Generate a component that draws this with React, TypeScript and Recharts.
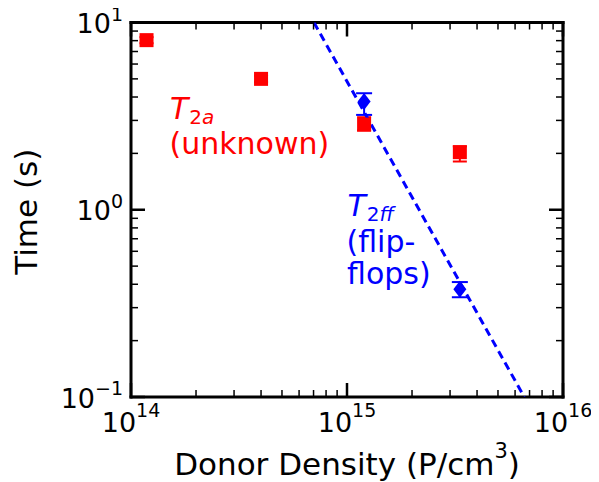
import React from 'react';
import { ScatterChart, Scatter, XAxis, YAxis, ErrorBar } from 'recharts';

// ---- data ----
const redDensity = [1.18e14, 4.0e14, 1.2e15, 3.33e15];
const redTime = [8.05, 5.0, 2.85, 2.03];
const redErrLow = [0.3, 0.2, 0.2, 0.22];
const redErrHigh = [0.3, 0.2, 0.27, 0.15];

const blueDensity = [1.2e15, 3.33e15];
const blueTime = [3.78, 0.376];
const blueErrLow = [0.57, 0.035];
const blueErrHigh = [0.41, 0.035];

const fitDensity = [7.03e14, 6.62e15];
const fitTime = [10, 0.1];

const xTickValues = [
  1e14, 2e14, 3e14, 4e14, 5e14, 6e14, 7e14, 8e14, 9e14,
  1e15, 2e15, 3e15, 4e15, 5e15, 6e15, 7e15, 8e15, 9e15, 1e16,
];
const yTickValues = [
  0.1, 0.2, 0.3, 0.4, 0.5, 0.6, 0.7, 0.8, 0.9,
  1, 2, 3, 4, 5, 6, 7, 8, 9, 10,
];

const redData = redDensity.map((x, i) => ({ x, y: redTime[i], err: [redErrLow[i], redErrHigh[i]] }));
const blueData = blueDensity.map((x, i) => ({ x, y: blueTime[i], err: [blueErrLow[i], blueErrHigh[i]] }));
const fitData = fitDensity.map((x, i) => ({ x, y: fitTime[i] }));

const FONT = '"DejaVu Sans", sans-serif';
const RED = '#ff0000';
const BLUE = '#0000ff';
const MAJ = 14;
const MIN = 7;

const isMajor = (v: number) => {
  const l = Math.log10(v);
  return Math.abs(l - Math.round(l)) < 1e-6;
};
const expLabel = (v: number) => {
  const e = Math.round(Math.log10(v));
  return e < 0 ? '\u2212' + Math.abs(e) : String(e);
};

function BottomTick(props: any) {
  const { x, y, payload } = props;
  const v = payload.value;
  const maj = isMajor(v);
  return (
    <g>
      <line x1={x} y1={y} x2={x} y2={y - (maj ? MAJ : MIN)} stroke="#000" strokeWidth={maj ? 2.5 : 1.5} />
      {maj && (
        <text x={x} y={y + 34.5} textAnchor="middle" fontFamily={FONT} fill="#000">
          <tspan fontSize={27}>10</tspan>
          <tspan fontSize={19} dy={-15}>{expLabel(v)}</tspan>
        </text>
      )}
    </g>
  );
}

function TopTick(props: any) {
  const { x, y, payload } = props;
  const maj = isMajor(payload.value);
  return <line x1={x} y1={y} x2={x} y2={y + (maj ? MAJ : MIN)} stroke="#000" strokeWidth={maj ? 2.5 : 1.5} />;
}

function LeftTick(props: any) {
  const { x, y, payload } = props;
  const v = payload.value;
  const maj = isMajor(v);
  return (
    <g>
      <line x1={x} y1={y} x2={x + (maj ? MAJ : MIN)} y2={y} stroke="#000" strokeWidth={maj ? 2.5 : 1.5} />
      {maj && (
        <text x={x - 8} y={y + 10.5} textAnchor="end" fontFamily={FONT} fill="#000">
          <tspan fontSize={27}>10</tspan>
          <tspan fontSize={19} dy={-12.5}>{expLabel(v)}</tspan>
        </text>
      )}
    </g>
  );
}

function RightTick(props: any) {
  const { x, y, payload } = props;
  const maj = isMajor(payload.value);
  return <line x1={x} y1={y} x2={x - (maj ? MAJ : MIN)} y2={y} stroke="#000" strokeWidth={maj ? 2.5 : 1.5} />;
}

const Square = (props: any) => {
  const { cx, cy } = props;
  const s = 7;
  return <rect x={cx - s} y={cy - s} width={2 * s} height={2 * s} fill={RED} />;
};

const Diamond = (props: any) => {
  const { cx, cy } = props;
  const w = 6.5;
  const h = 8.5;
  return <polygon points={`${cx},${cy - h} ${cx + w},${cy} ${cx},${cy + h} ${cx - w},${cy}`} fill={BLUE} />;
};

const NoShape = () => <g />;

const axisLineStyle = { stroke: '#000', strokeWidth: 3, strokeLinecap: 'square' as const };

export default function App() {
  return (
    <div style={{ position: 'relative', width: 591, height: 474 }}>
      <ScatterChart width={591} height={474} margin={{ top: 12.5, right: 30, bottom: 35, left: 63 }}>
        <XAxis
          xAxisId="b"
          type="number"
          dataKey="x"
          scale="log"
          domain={[1e14, 1e16]}
          allowDataOverflow
          ticks={xTickValues}
          interval={0}
          tickSize={0}
          tickMargin={0}
          tickLine={false}
          tick={<BottomTick />}
          axisLine={axisLineStyle}
          height={50}
          orientation="bottom"
        />
        <XAxis
          xAxisId="t"
          type="number"
          dataKey="x"
          scale="log"
          domain={[1e14, 1e16]}
          allowDataOverflow
          ticks={xTickValues}
          interval={0}
          tickSize={0}
          tickMargin={0}
          tickLine={false}
          tick={<TopTick />}
          axisLine={axisLineStyle}
          height={2}
          orientation="top"
        />
        <YAxis
          yAxisId="l"
          type="number"
          dataKey="y"
          scale="log"
          domain={[0.1, 10]}
          allowDataOverflow
          ticks={yTickValues}
          interval={0}
          tickSize={0}
          tickMargin={0}
          tickLine={false}
          tick={<LeftTick />}
          axisLine={axisLineStyle}
          width={60}
          orientation="left"
        />
        <YAxis
          yAxisId="r"
          type="number"
          dataKey="y"
          scale="log"
          domain={[0.1, 10]}
          allowDataOverflow
          ticks={yTickValues}
          interval={0}
          tickSize={0}
          tickMargin={0}
          tickLine={false}
          tick={<RightTick />}
          axisLine={axisLineStyle}
          width={6}
          orientation="right"
        />
        <Scatter
          xAxisId="b"
          yAxisId="l"
          data={fitData}
          fill={BLUE}
          line={{ stroke: BLUE, strokeWidth: 3, strokeDasharray: '8 5' }}
          shape={NoShape}
          isAnimationActive={false}
        />
        <Scatter xAxisId="b" yAxisId="l" data={redData} fill={RED} shape={Square} isAnimationActive={false}>
          <ErrorBar dataKey="err" direction="y" width={7} stroke={RED} strokeWidth={2} isAnimationActive={false} />
        </Scatter>
        <Scatter xAxisId="b" yAxisId="l" data={blueData} fill={BLUE} shape={Diamond} isAnimationActive={false}>
          <ErrorBar dataKey="err" direction="y" width={8} stroke={BLUE} strokeWidth={2} isAnimationActive={false} />
        </Scatter>
        <Scatter xAxisId="t" yAxisId="r" data={[]} isAnimationActive={false} />
      </ScatterChart>
      <svg
        width={591}
        height={474}
        style={{ position: 'absolute', left: 0, top: 0, pointerEvents: 'none' }}
      >
        <text
          x={28.7}
          y={203.7}
          transform="rotate(-90, 28.7, 203.7)"
          textAnchor="middle"
          fontFamily={FONT}
          fontSize={31}
          fill="#000"
        >
          Time (s)
        </text>
        <text x={339} y={466.5} textAnchor="middle" fontFamily={FONT} fontSize={31} fill="#000">
          <tspan>Donor Density (P/cm</tspan>
          <tspan fontSize={21} dy={-17}>3</tspan>
          <tspan dy={17}>)</tspan>
        </text>
        <text x={162} y={110.5} fontFamily={FONT} fill={RED}>
          <tspan fontSize={30} fontStyle="italic">T</tspan>
          <tspan fontSize={20} dy={5} dx={1}>2</tspan>
          <tspan fontSize={20} fontStyle="italic">a</tspan>
        </text>
        <text x={161.5} y={145.5} fontFamily={FONT} fontSize={30} fill={RED}>(unknown)</text>
        <text x={339.5} y={208} fontFamily={FONT} fill={BLUE}>
          <tspan fontSize={30} fontStyle="italic">T</tspan>
          <tspan fontSize={20} dy={5} dx={1}>2</tspan>
          <tspan fontSize={20} fontStyle="italic">ff</tspan>
        </text>
        <text x={338.5} y={244} fontFamily={FONT} fontSize={30} fill={BLUE}>(flip-</text>
        <text x={339} y={275.5} fontFamily={FONT} fontSize={30} fill={BLUE}>flops)</text>
      </svg>
    </div>
  );
}
